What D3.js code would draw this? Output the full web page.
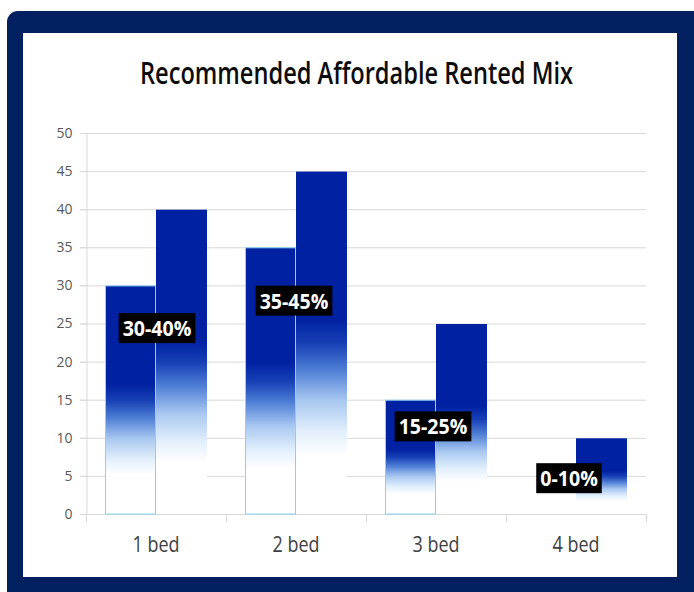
<!DOCTYPE html>
<html>
<head>
<meta charset="utf-8">
<script src="https://cdn.jsdelivr.net/npm/d3@7"></script>
<style>
  html, body { margin: 0; padding: 0; background: #ffffff; }
  svg { display: block; }
  text { font-family: "Open Sans", "DejaVu Sans", sans-serif; }
</style>
</head>
<body>
<svg id="chart" width="694" height="592"></svg>
<script>
// Unit-size mix: lower and upper end of the recommended range per home size
const categories = ["1 bed", "2 bed", "3 bed", "4 bed"];
const lowerShare = [30, 35, 15, 0];
const upperShare = [40, 45, 25, 10];
const rangeLabels = ["30-40%", "35-45%", "15-25%", "0-10%"];
// value level at which each range callout sits
const labelLevel = [24.4, 28, 11.5, 4.7];
const yTicks = [0, 5, 10, 15, 20, 25, 30, 35, 40, 45, 50];
const titleText = "Recommended Affordable Rented Mix";

const svg = d3.select("#chart");

// navy frame with white panel
svg.append("rect")
  .attr("x", 7).attr("y", 11).attr("width", 700).attr("height", 600)
  .attr("rx", 11).attr("fill", "#022060");
svg.append("rect")
  .attr("x", 23).attr("y", 33).attr("width", 654).attr("height", 544)
  .attr("fill", "#ffffff");

// title
svg.append("text")
  .attr("x", 140).attr("y", 84)
  .attr("font-size", 30)
  .attr("font-weight", 600)
  .attr("fill", "#0d0d0d")
  .attr("textLength", 433)
  .attr("lengthAdjust", "spacingAndGlyphs")
  .text(titleText);

const plot = { left: 86, right: 646, top: 133, bottom: 514 };

const x0 = d3.scaleBand()
  .domain(categories)
  .range([plot.left, plot.right])
  .paddingInner(0).paddingOuter(0);

const x1 = d3.scaleBand()
  .domain([0, 1])
  .range([0, x0.bandwidth()])
  .paddingInner(0).paddingOuter(0.373);

const y = d3.scaleLinear().domain([0, 50]).range([plot.bottom, plot.top]);

// fading fill shared by all bars
const defs = svg.append("defs");
const grad = defs.append("linearGradient")
  .attr("id", "fade")
  .attr("x1", 0).attr("y1", 0).attr("x2", 0).attr("y2", 1);
[
  [0, "#0021a2"], [0.43, "#0021a2"], [0.5, "#163fb5"], [0.58, "#4f7fd6"],
  [0.67, "#a9c8f1"], [0.76, "#e2effc"], [0.83, "#ffffff"], [1, "#ffffff"]
].forEach(([o, c]) => grad.append("stop").attr("offset", o).attr("stop-color", c));

// gridlines
const grid = svg.append("g");
grid.selectAll("line")
  .data(yTicks.filter(d => d > 0))
  .join("line")
  .attr("x1", plot.left - 6).attr("x2", plot.right)
  .attr("y1", d => y(d) + 0.5).attr("y2", d => y(d) + 0.5)
  .attr("stroke", "#d9d9d9").attr("stroke-width", 1);

// y axis
const yAxis = svg.append("g")
  .attr("transform", `translate(${plot.left + 0.5},0)`)
  .call(d3.axisLeft(y).tickValues(yTicks).tickSize(6).tickPadding(8));
yAxis.select(".domain").attr("stroke", "#d9d9d9");
yAxis.selectAll(".tick line").attr("stroke", "#d9d9d9");
yAxis.selectAll(".tick text")
  .attr("font-family", "'Open Sans', sans-serif")
  .attr("font-size", 14).attr("fill", "#595959");

// x axis
const xAxis = svg.append("g")
  .attr("transform", `translate(0,${plot.bottom + 0.5})`)
  .call(d3.axisBottom(x0).tickSize(0).tickPadding(22));
xAxis.select(".domain").attr("stroke", "#d9d9d9").attr("d", `M${plot.left - 6},0H${plot.right}`);
xAxis.selectAll(".tick text")
  .attr("font-family", "'Open Sans', sans-serif")
  .attr("font-size", 22).attr("fill", "#404040")
  .attr("dy", "0.72em")
  .attr("textLength", 47)
  .attr("lengthAdjust", "spacingAndGlyphs");
// category separators below the axis
svg.append("g").selectAll("line")
  .data(d3.range(categories.length + 1))
  .join("line")
  .attr("x1", i => plot.left + i * x0.step() + 0.5)
  .attr("x2", i => plot.left + i * x0.step() + 0.5)
  .attr("y1", plot.bottom).attr("y2", plot.bottom + 8)
  .attr("stroke", "#d9d9d9");

// bars
const groups = svg.append("g").selectAll("g")
  .data(categories.map((c, i) => ({ c, vals: [lowerShare[i], upperShare[i]] })))
  .join("g")
  .attr("transform", d => `translate(${x0(d.c)},0)`);

groups.selectAll("rect")
  .data(d => d.vals.map((v, k) => ({ v, k })).filter(e => e.v > 0))
  .join("rect")
  .attr("x", e => x1(e.k) + (e.k === 0 ? 0.5 : 0))
  .attr("width", e => x1.bandwidth() - (e.k === 0 ? 1 : 0))
  .attr("y", e => y(e.v) + 0.5)
  .attr("height", e => y(0) - y(e.v) - 0.5)
  .attr("fill", "url(#fade)")
  .attr("stroke", e => e.k === 0 ? "#86d2f6" : "none")
  .attr("stroke-width", 1);

// range callouts, centred near the seam between each pair of bars
const calloutShift = [1, -2, -3, -7];
const callouts = svg.append("g").selectAll("g")
  .data(categories.map((c, i) => ({ c, label: rangeLabels[i], level: labelLevel[i], i })))
  .join("g")
  .attr("transform", d => `translate(${x0(d.c) + x1(1) + calloutShift[d.i]},${y(d.level)})`);

callouts.each(function (d) {
  const g = d3.select(this);
  const t = g.append("text")
    .attr("text-anchor", "middle")
    .attr("dy", "0.36em")
    .attr("font-size", 22)
    .attr("font-weight", 700)
    .attr("fill", "#ffffff")
    .text(d.label);
  const natural = t.node().getComputedTextLength();
  const len = natural * 0.89;
  t.attr("textLength", len).attr("lengthAdjust", "spacingAndGlyphs");
  g.insert("rect", "text")
    .attr("x", -len / 2 - 4).attr("y", -15)
    .attr("width", len + 8).attr("height", 30)
    .attr("fill", "#000000");
});
</script>
</body>
</html>
